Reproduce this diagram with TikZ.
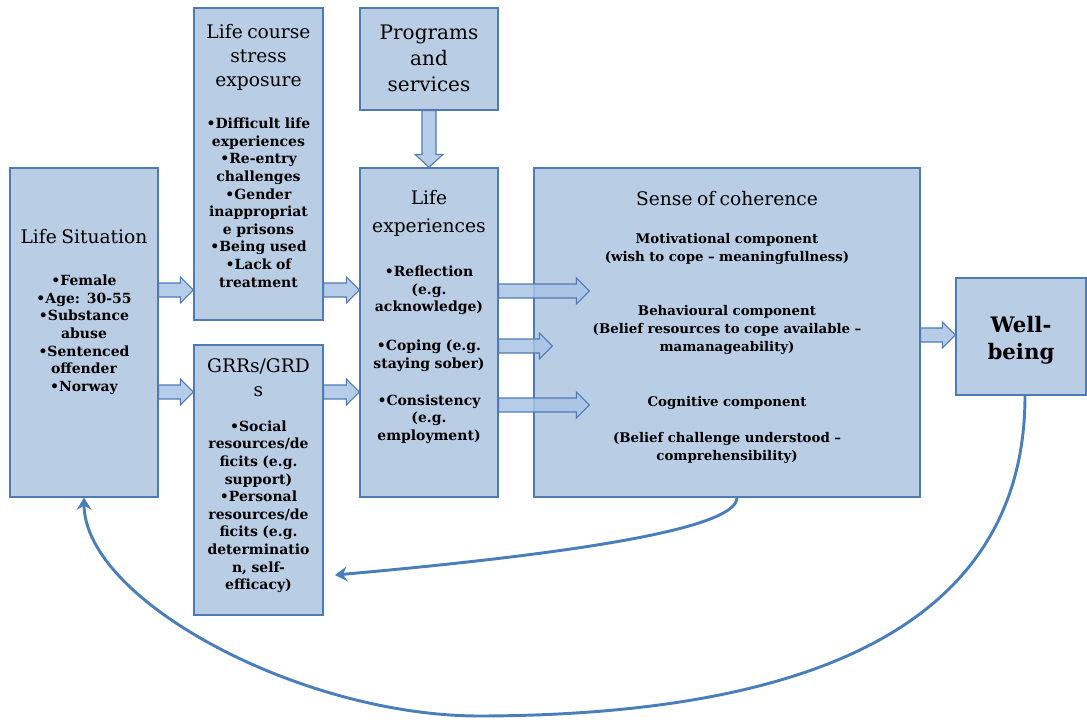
\documentclass[tikz,border=0pt]{standalone}
\usepackage{fontspec}
\setmainfont{DejaVu Serif}
\usetikzlibrary{positioning,calc,arrows.meta}
\definecolor{boxfill}{RGB}{185,205,229}
\definecolor{boxline}{RGB}{80,122,178}
\definecolor{arrowfill}{RGB}{168,196,229}
\definecolor{curveblue}{RGB}{74,126,187}
\newcommand{\hdfont}{\fontsize{14}{18}\selectfont}
\newcommand{\bltfont}{\fontsize{10.5}{13.2}\selectfont\bfseries}
% block arrow: from node edge, to node edge, at height y (px)
\newcommand{\blockarrow}[3]{%
  \path (#1 |- 0,#3) coordinate (ba-s) (#2 |- 0,#3) coordinate (ba-e);
  \draw[blockarr] ($(ba-s)+(0,-7)$) -- ($(ba-e)+(-13,-7)$) -- ($(ba-e)+(-13,-13)$)
    -- (ba-e) -- ($(ba-e)+(-13,13)$) -- ($(ba-e)+(-13,7)$) -- ($(ba-s)+(0,7)$) -- cycle;}
\tikzset{
  box/.style={draw=boxline, fill=boxfill, line width=1pt, inner sep=0pt},
  txt/.style={align=center, inner sep=0pt, text width=#1},
  blockarr/.style={draw=boxline, fill=arrowfill, line width=0.8pt, fill opacity=0.85},
  backarrow/.style={draw=curveblue, line width=2.2pt, -{Stealth[length=9pt,width=11pt,inset=3pt]}}
}
\begin{document}
\begin{tikzpicture}[x=0.75pt,y=-0.75pt]
\useasboundingbox (0,0) rectangle (1087,722);
% boxes
\node[box, minimum width=111pt, minimum height=246.75pt] (sit) at (84,332.5) {};
\node[box, minimum width=96.75pt, minimum height=234pt] (stress) at (258.5,164) {};
\node[box, minimum width=96.75pt, minimum height=202.5pt] (grr) at (258.5,480) {};
\node[box, minimum width=103.5pt, minimum height=76.5pt] (prog) at (429,59) {};
\node[box, minimum width=103.5pt, minimum height=246.75pt] (life) at (429,332.5) {};
\node[box, minimum width=289.5pt, minimum height=246.75pt] (soc) at (727,332.5) {};
\node[box, minimum width=97.5pt, minimum height=87.75pt] (well) at (1021,336.5) {};
% texts
\node[txt=108pt, below=46.5pt of sit.north] (sit-t) {{\hdfont Life Situation\par}\vspace{18.3pt}
  {\bltfont •Female\\•Age: 30-55\\•Substance\\abuse\\•Sentenced\\offender\\•Norway\par}};
\node[txt=96pt, below=12.75pt of stress.north] (stress-t) {{\hdfont Life course\\stress\\exposure\par}\vspace{18.3pt}
  {\bltfont •Difficult life\\experiences\\•Re-entry\\challenges\\•Gender\\inappropriat\\e prisons\\•Being used\\•Lack of\\treatment\par}};
\node[txt=96pt, below=10.5pt of grr.north] (grr-t) {{\hdfont GRRs/GRD\\s\par}\vspace{13pt}
  {\bltfont •Social\\resources/de\\ficits (e.g.\\support)\\•Personal\\resources/de\\ficits (e.g.\\determinatio\\n, self-\\efficacy)\par}};
\node[txt=103pt, below=12.9pt of prog.north] (prog-t) {{\fontsize{15}{19.5}\selectfont Programs\\and\\services\par}};
\node[txt=103pt, below=17pt of life.north] (life-t) {{\fontsize{14}{21}\selectfont Life\\experiences\par}\vspace{19.8pt}
  {\bltfont •Reflection\\(e.g.\\acknowledge)\\[16pt]•Coping (e.g.\\staying sober)\\[14.5pt]•Consistency\\(e.g.\\employment)\par}};
\node[txt=289pt, below=17.8pt of soc.north] (soc-t) {{\hdfont Sense of coherence\par}\vspace{15pt}
  {\fontsize{10}{13.5}\selectfont\bfseries Motivational component\\(wish to cope – meaningfullness)\\[27pt]
  Behavioural component\\(Belief resources to cope available –\\mamanageability)\\[27.75pt]
  Cognitive component\\[13.5pt](Belief challenge understood –\\comprehensibility)\par}};
\node[txt=97pt, below=28.9pt of well.north] (well-t) {{\fontsize{16}{20}\selectfont\bfseries Well-\\being\par}};
% block arrows
\blockarrow{sit.east}{stress.west}{290}
\blockarrow{sit.east}{grr.west}{392}
\blockarrow{stress.east}{life.west}{290}
\blockarrow{grr.east}{life.west}{392}
\coordinate (m1) at ($(soc.west)+(56,0)$);
\coordinate (m2) at ($(soc.west)+(19,0)$);
\blockarrow{life.east}{m1}{291}
\blockarrow{life.east}{m2}{346}
\blockarrow{life.east}{m1}{405}
\blockarrow{soc.east}{well.west}{335}
\path (prog.south) coordinate (va-s) (life.north) coordinate (va-e);
\draw[blockarr] ($(va-s)+(-7,0)$) -- ($(va-e)+(-7,-13)$) -- ($(va-e)+(-14,-13)$) -- (va-e)
  -- ($(va-e)+(14,-13)$) -- ($(va-e)+(7,-13)$) -- ($(va-s)+(7,0)$) -- cycle;
% feedback curves
\coordinate (fb) at (335,575);
\draw[backarrow] ($(soc.south)+(10,0)$) .. controls (737,530) and (560,555) .. (fb);
\draw[backarrow] ($(well.south)+(4,0)$) .. controls (1025,620) and (820,715) .. (480,716)
  .. controls (300,716) and (85,600) .. (sit.south);
\end{tikzpicture}
\end{document}
